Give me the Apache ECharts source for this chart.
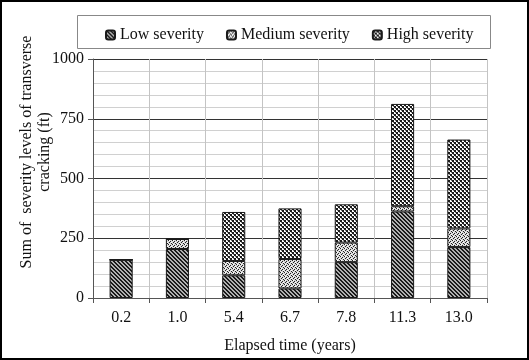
<!DOCTYPE html>
<html>
<head>
<meta charset="utf-8">
<script src="https://cdn.jsdelivr.net/npm/echarts@6/dist/echarts.min.js"></script>
<style>
html,body{margin:0;padding:0;background:#fff;}
#c{width:529px;height:360px;}
</style>
</head>
<body>
<div id="c"></div>
<script>
const categories = ['0.2', '1.0', '5.4', '6.7', '7.8', '11.3', '13.0'];
const lowSeverity = [160, 205, 95, 40, 150, 362, 213];
const mediumSeverity = [0, 42, 60, 123, 82, 22, 78];
const highSeverity = [0, 0, 205, 212, 160, 428, 372];
const yTicks = [0, 250, 500, 750, 1000];

function pattern(size, draw) {
  const c = document.createElement('canvas');
  c.width = size; c.height = size;
  const g = c.getContext('2d');
  draw(g);
  return { image: c, repeat: 'repeat' };
}
const lowPat = pattern(4, g => {
  g.fillStyle = '#b0b0b0'; g.fillRect(0, 0, 4, 4);
  g.fillStyle = '#1a1a1a';
  for (let i = 0; i < 4; i++) { g.fillRect(i, i, 1, 1); g.fillRect((i + 1) % 4, i, 1, 1); }
});
const medPat = pattern(4, g => {
  g.fillStyle = '#d8d8d8'; g.fillRect(0, 0, 4, 4);
  g.fillStyle = '#ffffff';
  g.fillRect(1, 0, 1, 1); g.fillRect(3, 2, 1, 1);
  g.fillStyle = '#222222';
  g.fillRect(0, 0, 1, 1); g.fillRect(2, 1, 1, 1); g.fillRect(1, 2, 1, 1); g.fillRect(3, 3, 1, 1);
});
const highPat = pattern(4, g => {
  g.fillStyle = '#ffffff'; g.fillRect(0, 0, 4, 4);
  g.fillStyle = '#1a1a1a';
  g.fillRect(0, 0, 2, 2); g.fillRect(2, 2, 2, 2);
  g.fillStyle = '#777777';
  g.fillRect(3, 0, 1, 1); g.fillRect(1, 2, 1, 1);
});

const font = 'Liberation Serif';
const chart = echarts.init(document.getElementById('c'), null, { renderer: 'canvas' });

function barSeries(name, data, pat) {
  return {
    name: name, type: 'bar', stack: 'total', data: data, barWidth: '41%',
    itemStyle: { color: pat, borderColor: '#1a1a1a', borderWidth: 1 },
    emphasis: { disabled: true }
  };
}

chart.setOption({
  animation: false,
  backgroundColor: '#ffffff',
  textStyle: { fontFamily: font },
  graphic: [
    { type: 'rect', shape: { x: 1, y: 1, width: 527, height: 358 }, style: { fill: 'none', stroke: '#000', lineWidth: 2 }, silent: true },
    { type: 'rect', shape: { x: 77.5, y: 15.5, width: 413, height: 33 }, style: { fill: 'none', stroke: '#888', lineWidth: 1 }, silent: true },
    { type: 'text', x: 36, y: 152, rotation: Math.PI / 2,
      style: { text: 'Sum of  severity levels of transverse\ncracking (ft)', font: '16px "Liberation Serif"', fill: '#111', align: 'center', verticalAlign: 'middle', lineHeight: 18 }, silent: true }
  ],
  legend: {
    left: 100, top: 22, itemWidth: 9, itemHeight: 9, itemGap: 22,
    textStyle: { fontFamily: font, fontSize: 16, color: '#111' },
    data: ['Low severity', 'Medium severity', 'High severity']
  },
  grid: { left: 93, right: 42, top: 59, bottom: 62, containLabel: false },
  xAxis: {
    type: 'category', data: categories,
    name: 'Elapsed time (years)', nameLocation: 'middle', nameGap: 40,
    nameTextStyle: { fontFamily: font, fontSize: 16, color: '#111' },
    axisLine: { lineStyle: { color: '#555', width: 1 } },
    axisTick: { show: true, length: 5, lineStyle: { color: '#555' } },
    axisLabel: { fontFamily: font, fontSize: 16, color: '#111', margin: 12 },
    splitLine: { show: true, lineStyle: { color: '#c4c4c4', width: 1 } }
  },
  yAxis: {
    type: 'value', min: yTicks[0], max: yTicks[yTicks.length - 1], interval: 250,
    axisLine: { show: true, lineStyle: { color: '#555' } },
    axisTick: { show: true, length: 5, inside: false, lineStyle: { color: '#555' } },
    axisLabel: { fontFamily: font, fontSize: 16, color: '#111', margin: 9, formatter: v => String(v) },
    splitLine: { show: true, lineStyle: { color: '#333', width: 1 } },
    minorTick: { show: false, splitNumber: 5 },
    minorSplitLine: { show: true, lineStyle: { color: '#d0d0d0', width: 1 } }
  },
  series: [
    barSeries('Low severity', lowSeverity, lowPat),
    barSeries('Medium severity', mediumSeverity, medPat),
    barSeries('High severity', highSeverity, highPat)
  ]
});
</script>
</body>
</html>
